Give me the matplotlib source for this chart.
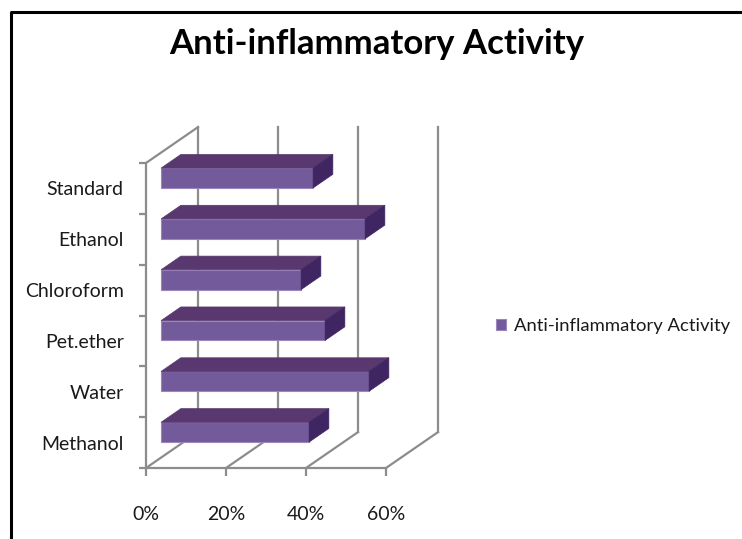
import matplotlib
matplotlib.use("Agg")
import matplotlib.pyplot as plt
from matplotlib.lines import Line2D
from matplotlib.patches import Polygon

# Data
categories = ["Methanol", "Water", "Pet.ether", "Chloroform", "Ethanol", "Standard"]
activity = [37, 52, 41, 35, 51, 38]          # percent
series_name = "Anti-inflammatory Activity"
x_ticks = [0, 20, 40, 60]
x_tick_labels = ["0%", "20%", "40%", "60%"]

# Styling
W, H, DPI = 742, 539, 100
FONT = ["Lato", "DejaVu Sans"]
GRID = "#8c8c8c"
FRONT = "#735a9a"
TOP = "#58386f"
SIDE = "#3f2562"
EDGE = "#9a86bd"
TEXT = "#1a1a1a"

# pseudo-3D depth offset in data units (x in %, y in category units)
DX, DY = 13.0, 0.706
F1, F2 = 0.29, 0.67     # front / back depth of the bars
BAR_H = 0.39


def proj(x, y, d):
    return (x + d * DX, y + d * DY)


fig = plt.figure(figsize=(W / DPI, H / DPI), dpi=DPI)
ax = fig.add_axes([146 / W, 1 - 468 / H, 240 / W, 305 / H])
ax.set_xlim(0, 60)
ax.set_ylim(-0.5, len(categories) - 0.5)
ax.patch.set_alpha(0)

for s in ("top", "right"):
    ax.spines[s].set_visible(False)
for s in ("left", "bottom"):
    ax.spines[s].set_color(GRID)
    ax.spines[s].set_linewidth(1.6)

# x axis ticks
ax.set_xticks(x_ticks)
ax.set_xticklabels(x_tick_labels, fontfamily=FONT, fontsize=14, color=TEXT)
ax.tick_params(axis="x", direction="out", length=6, width=1.6, color=GRID, pad=21)

# y axis: boundary ticks, labels centred on categories
n = len(categories)
ax.set_yticks([i - 0.5 for i in range(n + 1)])
ax.set_yticklabels([])
ax.set_yticks(range(n), minor=True)
ax.set_yticklabels(categories, minor=True, fontfamily=FONT, fontsize=14, color=TEXT)
ax.tick_params(axis="y", which="major", direction="out", length=5, width=1.6, color=GRID)
ax.tick_params(axis="y", which="minor", length=0, pad=16)

# back wall gridlines and floor edges
y0, y1 = -0.5, n - 0.5
for v in x_ticks:
    (bx0, by0), (bx1, by1) = proj(v, y0, 1), proj(v, y1, 1)
    ax.add_line(Line2D([bx0, bx1], [by0, by1], color=GRID, lw=1.6, clip_on=False, zorder=1))
    (fx, fy) = proj(v, y0, 0)
    ax.add_line(Line2D([fx, bx0], [fy, by0], color=GRID, lw=1.6, clip_on=False, zorder=1))
# left wall top edge
(tx0, ty0), (tx1, ty1) = proj(0, y1, 0), proj(0, y1, 1)
ax.add_line(Line2D([tx0, tx1], [ty0, ty1], color=GRID, lw=1.6, clip_on=False, zorder=1))

# bars: front faces via barh, top and side faces from the same values
ypos = [i + F1 * DY for i in range(n)]
ax.barh(ypos, activity, height=BAR_H, left=F1 * DX, color=FRONT,
        edgecolor=EDGE, linewidth=0.8, zorder=3, label=series_name)
for i, v in enumerate(activity):
    yt, yb = i + BAR_H / 2, i - BAR_H / 2
    top = [proj(0, yt, F1), proj(v, yt, F1), proj(v, yt, F2), proj(0, yt, F2)]
    side = [proj(v, yb, F1), proj(v, yt, F1), proj(v, yt, F2), proj(v, yb, F2)]
    ax.add_patch(Polygon(top, closed=True, facecolor=TOP, edgecolor=TOP,
                         lw=0.5, zorder=3, clip_on=False))
    ax.add_patch(Polygon(side, closed=True, facecolor=SIDE, edgecolor=SIDE,
                         lw=0.5, zorder=3, clip_on=False))

# title
fig.text(377 / W, 1 - 44 / H, series_name, ha="center", va="center",
         fontfamily=FONT, fontweight="bold", fontsize=25, color="black")

# legend
fig.legend(loc="center left", bbox_to_anchor=(496 / W, 1 - 326 / H),
           frameon=False, prop={"family": FONT, "size": 13.3},
           labelcolor=TEXT,
           handlelength=0.55, handleheight=0.55, handletextpad=0.4,
           borderpad=0, borderaxespad=0)

# outer frame (left and top)
fig.add_artist(Line2D([11 / W, 11 / W, 1.0], [0.0, 1 - 12 / H, 1 - 12 / H],
                      transform=fig.transFigure, color="black", lw=2.2))

fig.savefig("out.png", dpi=DPI)
